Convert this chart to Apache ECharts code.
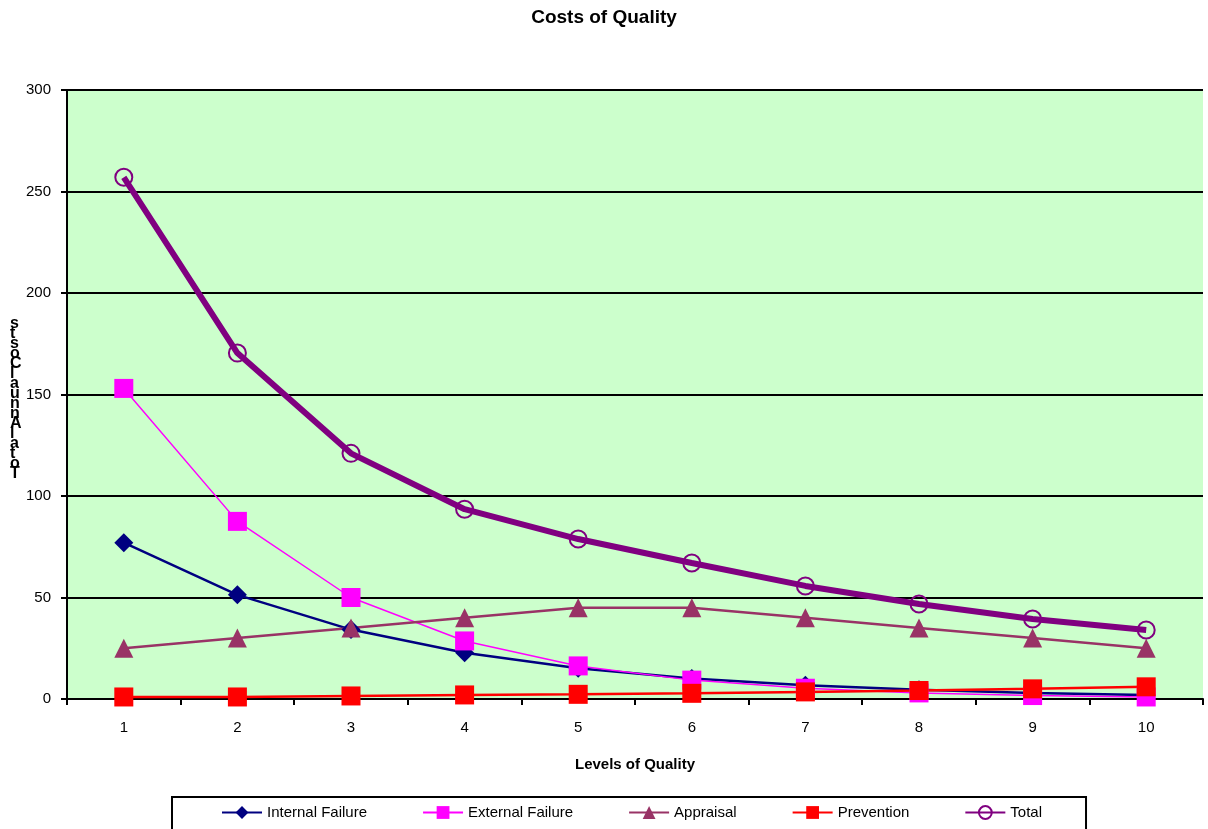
<!DOCTYPE html>
<html>
<head>
<meta charset="utf-8">
<script src="https://cdn.jsdelivr.net/npm/echarts@6/dist/echarts.min.js"></script>
<style>
html,body{margin:0;padding:0;background:#fff;}
#chart{width:1208px;height:829px;}
</style>
</head>
<body>
<div id="chart"></div>
<script>
var categories = ['1','2','3','4','5','6','7','8','9','10'];
var internalFailure = [77, 51.3, 34.2, 22.8, 15.2, 10.1, 6.8, 4.5, 3.0, 2.0];
var externalFailure = [153, 87.5, 50, 28.6, 16.3, 9.3, 5.3, 3.0, 1.7, 1.0];
var appraisal = [25, 30, 35, 40, 45, 45, 40, 35, 30, 25];
var prevention = [1, 1, 1.5, 2, 2.3, 2.8, 3.5, 4.2, 5, 6];
var total = [257, 170.4, 121, 93.5, 78.8, 67, 55.7, 46.8, 39.4, 34];
var seriesNames = ['Internal Failure', 'External Failure', 'Appraisal', 'Prevention', 'Total'];
var yAxisTitle = 'stsoClaunnAlatoT';

var chart = echarts.init(document.getElementById('chart'));
var font = 'Arial, "Liberation Sans", sans-serif';
chart.setOption({
  backgroundColor: '#ffffff',
  animation: false,
  title: {
    text: 'Costs of Quality',
    left: 'center',
    top: 3,
    textStyle: {fontFamily: font, fontSize: 19, fontWeight: 'bold', color: '#000'}
  },
  graphic: [{
    type: 'text',
    left: 10,
    top: 316,
    style: {
      text: yAxisTitle.split('').join('\n'),
      fontFamily: font,
      fontSize: 16,
      fontWeight: 'bold',
      lineHeight: 10,
      fill: '#000',
      align: 'center'
    }
  }],
  legend: {
    data: seriesNames,
    left: 172,
    top: 797,
    itemWidth: 40,
    itemHeight: 16,
    itemGap: 55,
    padding: [8, 44, 20, 49],
    borderColor: '#000',
    borderWidth: 2,
    textStyle: {fontFamily: font, fontSize: 15, color: '#000'}
  },
  grid: {
    left: 67, right: 5, top: 90, bottom: 130,
    show: true, backgroundColor: '#CCFFCC', borderWidth: 0
  },
  xAxis: {
    type: 'category',
    data: categories,
    boundaryGap: true,
    name: 'Levels of Quality',
    nameLocation: 'middle',
    nameGap: 58,
    nameTextStyle: {fontFamily: font, fontSize: 15, fontWeight: 'bold', color: '#000'},
    axisLine: {lineStyle: {color: '#000', width: 2}},
    axisTick: {show: true, inside: false, length: 6, alignWithLabel: false, lineStyle: {color: '#000', width: 2}},
    axisLabel: {fontFamily: font, fontSize: 15, color: '#000', margin: 21},
    splitLine: {show: false}
  },
  yAxis: {
    type: 'value',
    min: 0, max: 300, interval: 50,
    axisLine: {show: true, lineStyle: {color: '#000', width: 2}},
    axisTick: {show: true, inside: false, length: 6, lineStyle: {color: '#000', width: 2}},
    axisLabel: {fontFamily: font, fontSize: 15, color: '#000', margin: 16},
    splitLine: {show: true, lineStyle: {color: '#000', width: 2}}
  },
  series: [
    {
      name: seriesNames[0], type: 'line', data: internalFailure,
      symbol: 'diamond', symbolSize: 19,
      lineStyle: {color: '#000080', width: 2.5},
      itemStyle: {color: '#000080'}
    },
    {
      name: seriesNames[1], type: 'line', data: externalFailure,
      symbol: 'rect', symbolSize: 19,
      lineStyle: {color: '#FF00FF', width: 1.5},
      itemStyle: {color: '#FF00FF'}
    },
    {
      name: seriesNames[2], type: 'line', data: appraisal,
      symbol: 'triangle', symbolSize: [19, 19],
      lineStyle: {color: '#993366', width: 2.5},
      itemStyle: {color: '#993366'}
    },
    {
      name: seriesNames[3], type: 'line', data: prevention,
      symbol: 'rect', symbolSize: 19,
      lineStyle: {color: '#FF0000', width: 2.5},
      itemStyle: {color: '#FF0000'}
    },
    {
      name: seriesNames[4], type: 'line', data: total,
      symbol: 'circle', symbolSize: 17,
      lineStyle: {color: '#800080', width: 6},
      itemStyle: {color: 'rgba(0,0,0,0)', borderColor: '#800080', borderWidth: 2}
    }
  ]
});
</script>
</body>
</html>
